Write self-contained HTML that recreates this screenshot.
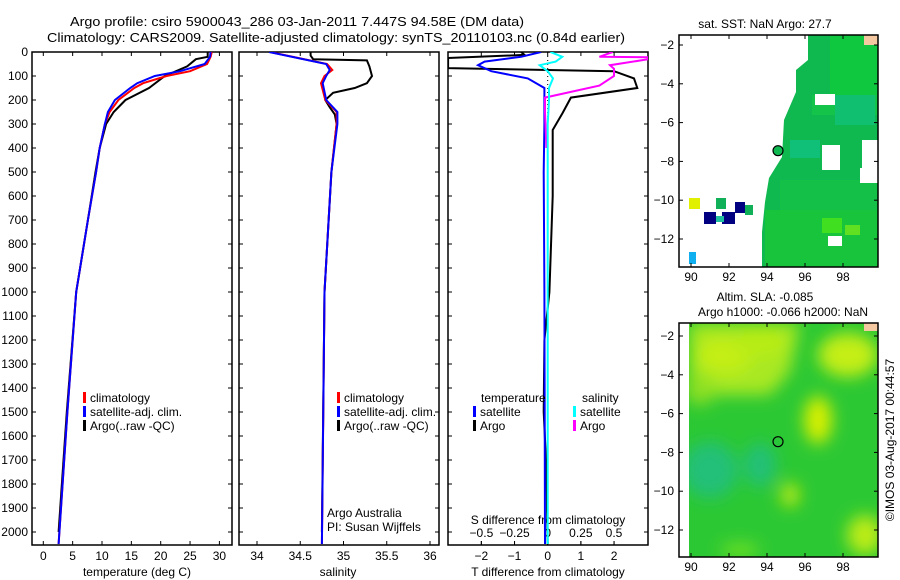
<!DOCTYPE html>
<html><head><meta charset="utf-8"><style>
body{margin:0;background:#fff;}
svg{display:block;font-family:"Liberation Sans",sans-serif;}
</style></head><body>
<svg id="fig" width="900" height="580" viewBox="0 0 900 580" xmlns="http://www.w3.org/2000/svg">
<defs>
<filter id="blur" x="-20%" y="-20%" width="140%" height="140%"><feGaussianBlur stdDeviation="8"/></filter>
<clipPath id="cp1"><rect x="32" y="52" width="200" height="493"/></clipPath>
<clipPath id="cp2"><rect x="239" y="52" width="200" height="493"/></clipPath>
<clipPath id="cp3"><rect x="448" y="52" width="200" height="493"/></clipPath>
<clipPath id="cm1"><rect x="679" y="35" width="199" height="232"/></clipPath>
<clipPath id="cm2"><rect x="689" y="323" width="189" height="234"/></clipPath>
</defs>
<text x="70" y="26" font-size="13" textLength="454" lengthAdjust="spacingAndGlyphs">Argo profile: csiro 5900043_286 03-Jan-2011 7.447S 94.58E (DM data)</text>
<text x="47" y="42" font-size="13" textLength="578" lengthAdjust="spacingAndGlyphs">Climatology: CARS2009. Satellite-adjusted climatology: synTS_20110103.nc (0.84d earlier)</text>
<g id="g"></g>
<text x="765" y="28" font-size="12" text-anchor="middle">sat. SST: NaN Argo: 27.7</text>
<text x="765" y="301" font-size="12" text-anchor="middle">Altim. SLA: -0.085</text>
<text x="783" y="316" font-size="12" text-anchor="middle">Argo h1000: -0.066 h2000: NaN</text>
<text transform="translate(894,440) rotate(-90)" font-size="12" text-anchor="middle">©IMOS 03-Aug-2017 00:44:57</text>
</svg>
<script>
// ---- data ----
const depthTicks=[0,100,200,300,400,500,600,700,800,900,1000,1100,1200,1300,1400,1500,1600,1700,1800,1900,2000];
const tempTicks=[0,5,10,15,20,25,30];
const salTicks=[34,34.5,35,35.5,36];
const tdiffTicks=[-2,-1,0,1,2];
const sdiffTicks=[-0.5,-0.25,0,0.25,0.5];
const tDepths=[0,20,50,80,100,130,150,200,250,300,400,500,700,1000,1500,2050];
const tClim=[28.7,28.5,27.9,25.0,21.0,17.0,15.5,12.8,11.3,10.5,9.6,9.0,7.6,5.6,4.1,2.6];
const tSat=[28.5,28.4,27.5,23.3,19.0,16.0,14.8,12.2,11.0,10.5,9.6,9.0,7.6,5.6,4.1,2.6];
const aDepths=[0,20,30,60,100,150,200,250,300,400,500,700,1000,1500,2000];
const tArgo=[28.0,28.0,26.0,24.5,20.7,18.0,14.0,12.0,10.7,9.6,8.9,7.6,5.6,4.0,2.6];
const sDepths=[0,50,75,100,130,200,250,300,500,1000,2050];
const sClim=[34.15,34.81,34.87,34.78,34.74,34.79,34.92,34.92,34.86,34.78,34.75];
const sSat=[34.14,34.8,34.84,34.8,34.76,34.8,34.93,34.93,34.86,34.78,34.75];
const saDepths=[0,15,30,35,60,100,130,150,170,200,230,260,300,500,1000,2000];
const sArgo=[34.62,34.62,34.65,35.27,35.3,35.33,35.27,35.13,34.88,34.79,34.84,34.9,34.92,34.86,34.78,34.75];
const dDepths=[0,12,25,35,67,80,110,150,190,254,325,600,1000,1200,1500,1700,2050];
const dTArgo=[-0.8,-0.7,-3,-3,-3,2.0,2.6,2.7,0.7,0.45,0.15,0.15,0.05,-0.1,-0.12,-0.05,0];
const dsDepths=[0,20,40,55,80,110,150,200,300,500,1000,2050];
const dTSat=[-0.2,-0.8,-1.9,-2.1,-1.7,-0.6,-0.1,-0.1,-0.1,-0.12,-0.1,-0.08];
const dSSat=[0.02,0.11,0.06,-0.06,0.0,0.04,0.01,0.01,0.0,0.0,0.0,0.0];
const dsaDepths=[0,20,22,30,55,70,90,100,140,190,250,400];
const dSArgo=[0.49,0.39,0.76,0.76,0.47,0.5,0.5,0.5,0.39,-0.02,-0.02,-0.01];
const lonTicks=[90,92,94,96,98];
const latTicks=[-2,-4,-6,-8,-10,-12];
const argoLon=94.58, argoLat=-7.447;

const NS="http://www.w3.org/2000/svg";
const G=document.getElementById('g');
function el(tag,attrs,parent,txt){const e=document.createElementNS(NS,tag);for(const k in attrs)e.setAttribute(k,attrs[k]);if(txt!==undefined)e.textContent=txt;(parent||G).appendChild(e);return e;}
const yD=d=>52+d*0.24;
const xT=t=>43.3+t*5.87;
const xS=s=>257+(s-34)*86.5;
const xTD=v=>547.7+v*33.2;
const xSD=v=>547.7+v*132.6;
function line(xs,ds,fx,color,w,name,clip){
  const pts=xs.map((v,i)=>fx(v).toFixed(1)+','+yD(ds[i]).toFixed(1)).join(' ');
  const p=el('polyline',{points:pts,fill:'none',stroke:color,'stroke-width':w,'clip-path':'url(#'+clip+')'});
  
  
}
function frame(x,name){
  const r=el('rect',{x:x,y:52,width:200,height:493,fill:'none',stroke:'#000','stroke-width':1.5});
  
  
  depthTicks.forEach(d=>{el('line',{x1:x,x2:x+4,y1:yD(d),y2:yD(d),stroke:'#000'});el('line',{x1:x+196,x2:x+200,y1:yD(d),y2:yD(d),stroke:'#000'});});
}
frame(32,'temperature-panel');frame(239,'salinity-panel');frame(448,'difference-panel');
depthTicks.forEach(d=>{const t=el('text',{x:28,y:yD(d)+4,'font-size':12,'text-anchor':'end'},G,d);

});
function xticks(ticks,fx,y,name){ticks.forEach(v=>{const x=fx(v);el('line',{x1:x,x2:x,y1:545,y2:541,stroke:'#000'});el('line',{x1:x,x2:x,y1:52,y2:56,stroke:'#000'});
const t=el('text',{x:x,y:y,'font-size':12,'text-anchor':'middle'},G,String(v).replace('-','\u2212'));

});}
xticks(tempTicks,xT,560,'temperature-tick-label');
xticks(salTicks,xS,560,'salinity-tick-label');
xticks(tdiffTicks,xTD,560,'t-diff-tick-label');
sdiffTicks.forEach(v=>{const x=xSD(v);el('line',{x1:x,x2:x,y1:545,y2:541,stroke:'#000'});
const t=el('text',{x:x,y:537,'font-size':12,'text-anchor':'middle'},G,String(v).replace('-','\u2212'));

});
[['temperature (deg C)',137,'x-axis-title-temperature'],['salinity',338,'x-axis-title-salinity'],['T difference from climatology',548,'x-axis-title-t-diff']].forEach(a=>{
const t=el('text',{x:a[1],y:576,'font-size':12,'text-anchor':'middle'},G,a[0]);

});
{const t=el('text',{x:548,y:524,'font-size':12,'text-anchor':'middle'},G,'S difference from climatology');

}
el('line',{x1:xTD(0),x2:xTD(0),y1:52,y2:545,stroke:'#000','stroke-dasharray':'1,3'});
line(tArgo,aDepths,xT,'#000',2,'temp-argo-line','cp1');
line(tClim,tDepths,xT,'#f00',2,'temp-climatology-line','cp1');
line(tSat,tDepths,xT,'#00f',2,'temp-satellite-line','cp1');
line(sArgo,saDepths,xS,'#000',2,'sal-argo-line','cp2');
line(sClim,sDepths,xS,'#f00',2,'sal-climatology-line','cp2');
line(sSat,sDepths,xS,'#00f',2,'sal-satellite-line','cp2');
line(dTArgo,dDepths,xTD,'#000',2,'tdiff-argo-line','cp3');
line(dTSat,dsDepths,xTD,'#00f',2,'tdiff-satellite-line','cp3');
line(dSArgo,dsaDepths,xSD,'#f0f',2,'sdiff-argo-line','cp3');
line(dSSat,dsDepths,xSD,'#0ff',2,'sdiff-satellite-line','cp3');
function leg(x,y,color,label,name){el('rect',{x:x,y:y-10,width:3,height:11,fill:color});
const t=el('text',{x:x+7,y:y,'font-size':12},G,label);

}
leg(83,402,'#f00','climatology','legend-temp-climatology');
leg(83,416,'#00f','satellite-adj. clim.','legend-temp-satellite');
leg(83,430,'#000','Argo(..raw -QC)','legend-temp-argo');
leg(337,402,'#f00','climatology','legend-sal-climatology');
leg(337,416,'#00f','satellite-adj. clim.','legend-sal-satellite');
leg(337,430,'#000','Argo(..raw -QC)','legend-sal-argo');
{const t=el('text',{x:481,y:402,'font-size':12},G,'temperature');}
{const t=el('text',{x:582,y:402,'font-size':12},G,'salinity');}
leg(473,416,'#00f','satellite','legend-tdiff-satellite');
leg(473,430,'#000','Argo','legend-tdiff-argo');
leg(573,416,'#0ff','satellite','legend-sdiff-satellite');
leg(573,430,'#f0f','Argo','legend-sdiff-argo');
{const t=el('text',{x:327,y:517,'font-size':12},G,'Argo Australia');}
{const t=el('text',{x:327,y:531,'font-size':12},G,'PI: Susan Wijffels');}

const mx=l=>691+(l-90)*19;
function mapAxes(top,bot,y0,name){
  const my=la=>y0+(-2-la)*19.4;
  const r=el('rect',{x:679,y:top,width:199,height:bot-top,fill:'none',stroke:'#000','stroke-width':1.5});
  
  
  lonTicks.forEach(l=>{const x=mx(l);el('line',{x1:x,x2:x,y1:top,y2:top+4,stroke:'#000'});el('line',{x1:x,x2:x,y1:bot,y2:bot-4,stroke:'#000'});
  const t=el('text',{x:x,y:bot+14,'font-size':12,'text-anchor':'middle'},G,l);});
  latTicks.forEach(la=>{const y=my(la);el('line',{x1:679,x2:683,y1:y,y2:y,stroke:'#000'});el('line',{x1:874,x2:878,y1:y,y2:y,stroke:'#000'});
  const t=el('text',{x:674,y:y+4,'font-size':12,'text-anchor':'end'},G,String(la).replace('-','\u2212'));});
  return my;
}
const m1=el('g',{'clip-path':'url(#cm1)'});


el('polygon',{points:'808,35 878,35 878,267 762,267 762,232 765,202 769,178 782,157 784,120 796,92 796,70 808,60',fill:'#10b850'},m1);
[[830,35,48,60,'#10c840'],[812,95,66,20,'#14c44a'],[835,95,40,30,'#10c070'],[780,180,98,30,'#14c048'],[765,210,113,57,'#18c43c'],[822,218,20,15,'#40e020'],[845,225,15,10,'#60e020'],[790,140,30,18,'#10c078']].forEach(c=>el('rect',{x:c[0],y:c[1],width:c[2],height:c[3],fill:c[4]},m1));
[[815,94,20,11],[822,145,18,25],[862,140,16,40],[860,168,18,15],[828,236,14,10]].forEach(c=>el('rect',{x:c[0],y:c[1],width:c[2],height:c[3],fill:'#fff'},m1));
[[689,198,11,11,'#e0f000'],[704,212,12,12,'#000080'],[722,212,13,12,'#000080'],[735,202,10,11,'#000080'],[716,198,10,11,'#10b058'],[745,205,8,10,'#10b058'],[716,216,8,6,'#20c0a0'],[689,252,7,12,'#10b0f0'],[864,35,14,10,'#f4c8a0']].forEach(c=>el('rect',{x:c[0],y:c[1],width:c[2],height:c[3],fill:c[4]},m1));
const my1=mapAxes(35,267,45,'sst-map-frame');
{const c=el('circle',{cx:mx(argoLon),cy:my1(argoLat),r:5,fill:'#10b850',stroke:'#000','stroke-width':1.2});}
const m2=el('g',{'clip-path':'url(#cm2)'});


el('rect',{x:689,y:323,width:189,height:234,fill:'#2cc834'},m2);
const bg=el('g',{filter:'url(#blur)'},m2);
[[690,323,40,38,'#a8e820','poly'],[725,355,28,18,'#c4ee14'],[760,343,28,14,'#b8ec18'],[700,390,15,15,'#8ee024'],[848,355,30,22,'#c4ee14'],[818,420,14,24,'#d8f004'],[710,470,28,28,'#22c078'],[760,465,16,22,'#22c078'],[790,495,9,12,'#c0ec10'],[865,535,18,20,'#bcec14'],[740,550,20,7,'#70e020']].forEach(c=>{
  if(c[5]==='poly'){el('polygon',{points:'689,323 800,323 790,372 770,395 689,395',fill:'#a8e820'},bg);}
  else el('ellipse',{cx:c[0],cy:c[1],rx:c[2],ry:c[3],fill:c[4]},bg);});
el('rect',{x:864,y:323,width:14,height:8,fill:'#f4c8a0'},m2);
const my2=mapAxes(323,557,336,'sla-map-frame');
{const c=el('circle',{cx:mx(argoLon),cy:my2(argoLat),r:5,fill:'none',stroke:'#000','stroke-width':1.2});}
</script>
</body></html>
